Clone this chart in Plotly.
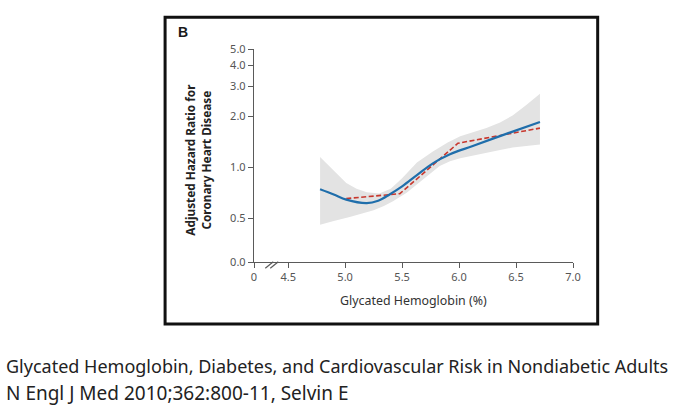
import math
import plotly.graph_objects as go

# ---------------- data ----------------
# Glycated hemoglobin (%) and adjusted hazard ratio, fitted spline (blue)
fit_x = [4.78, 4.90, 5.01, 5.19, 5.29, 5.39, 5.50, 5.63, 5.77, 5.92, 6.12, 6.42, 6.71]
fit_hr = [0.741, 0.690, 0.643, 0.613, 0.634, 0.690, 0.770, 0.897, 1.054, 1.193, 1.335, 1.580, 1.850]

# Category estimates (red dashed)
cat_x = [5.01, 5.48, 5.99, 6.71]
cat_hr = [0.652, 0.697, 1.385, 1.703]

# 95% confidence band (gray)
ci_up_x = [4.78, 4.84, 4.90, 4.96, 5.01, 5.10, 5.19, 5.30, 5.40, 5.50, 5.63, 5.77, 5.90, 6.01, 6.12, 6.24, 6.36, 6.47, 6.59, 6.71]
ci_up_hr = [1.150, 1.050, 0.960, 0.880, 0.805, 0.745, 0.710, 0.700, 0.745, 0.860, 1.066, 1.238, 1.400, 1.522, 1.610, 1.703, 1.840, 2.020, 2.330, 2.720]
ci_lo_x = [4.78, 4.90, 5.04, 5.15, 5.25, 5.34, 5.42, 5.54, 5.62, 5.71, 5.83, 5.92, 6.01, 6.12, 6.24, 6.36, 6.47, 6.59, 6.71]
ci_lo_hr = [0.456, 0.480, 0.507, 0.530, 0.557, 0.590, 0.628, 0.707, 0.785, 0.876, 1.016, 1.085, 1.128, 1.170, 1.216, 1.262, 1.309, 1.335, 1.360]

x_tickvals = [4.5, 5.0, 5.5, 6.0, 6.5, 7.0]
x_ticktext = ["4.5", "5.0", "5.5", "6.0", "6.5", "7.0"]
y_tickvals = [0.5, 1.0, 2.0, 3.0, 4.0, 5.0]
y_ticktext = ["0.5", "1.0", "2.0", "3.0", "4.0", "5.0"]

x_title = "Glycated Hemoglobin (%)"
y_title = "<b>Adjusted Hazard Ratio for<br>Coronary Heart Disease</b>"
panel = "<b>B</b>"
caption1 = "Glycated Hemoglobin, Diabetes, and Cardiovascular Risk in Nondiabetic Adults"
caption2 = "N Engl J Med 2010;362:800-11, Selvin E"

# ---------------- layout geometry ----------------
W, H = 690, 413
L, R, T, B = 254, 573.3, 48.8, 262
X_MIN, X_MAX = 4.2, 7.0          # axis origin shown as "0" (broken axis)
Y_MIN, Y_MAX = 0.275, 5.0        # axis origin shown as "0.0" (broken axis)


def px(x):
    return (x - L) / (R - L)


def py(y):
    return (B - y) / (B - T)


fig = go.Figure()

band_x = ci_up_x + ci_lo_x[::-1]
band_y = ci_up_hr + ci_lo_hr[::-1]
fig.add_trace(go.Scatter(
    x=band_x, y=band_y, mode="lines", fill="toself",
    fillcolor="#e3e3e3", line=dict(width=0, color="#e3e3e3"),
    hoverinfo="skip", showlegend=False))

fig.add_trace(go.Scatter(
    x=cat_x, y=cat_hr, mode="lines",
    line=dict(color="#c8372d", width=1.6, dash="5px,2.5px"),
    showlegend=False))

fig.add_trace(go.Scatter(
    x=fit_x, y=fit_hr, mode="lines",
    line=dict(color="#1f6eab", width=2.2, shape="spline", smoothing=1.0),
    showlegend=False))

axis_common = dict(
    showline=True, linecolor="#5a5a5a", linewidth=1.3,
    ticks="outside", ticklen=5, tickwidth=1.3, tickcolor="#5a5a5a",
    showgrid=False, zeroline=False,
    tickfont=dict(family="Noto Sans", size=11, color="#555555"),
)

fig.update_layout(
    width=W, height=H,
    margin=dict(l=L, r=W - R, t=T, b=H - B, pad=0),
    paper_bgcolor="white", plot_bgcolor="white",
    xaxis=dict(range=[X_MIN, X_MAX],
               tickvals=[X_MIN] + x_tickvals, ticktext=["0"] + x_ticktext,
               **axis_common),
    yaxis=dict(type="log", range=[math.log10(Y_MIN), math.log10(Y_MAX)],
               tickvals=[Y_MIN] + y_tickvals, ticktext=["0.0"] + y_ticktext,
               **axis_common),
)

ann = [
    dict(text=panel, x=px(175.5), y=py(31.5), xanchor="left", yanchor="middle",
         font=dict(family="Liberation Sans", size=14, color="#1a1a1a")),
    dict(text=y_title, x=px(197.5), y=py(160), xanchor="center", yanchor="middle",
         textangle=-90, font=dict(family="Noto Sans", size=11.8, color="#222222")),
    dict(text=x_title, x=px(413.5), y=py(300.5), xanchor="center", yanchor="middle",
         font=dict(family="Noto Sans", size=12.4, color="#333333")),
    dict(text=caption1, x=px(4), y=py(366), xanchor="left", yanchor="middle",
         font=dict(family="Noto Sans", size=18, color="#222222")),
    dict(text=caption2, x=px(4), y=py(393), xanchor="left", yanchor="middle",
         font=dict(family="Noto Sans", size=19, color="#222222")),
]
for a in ann:
    a.update(xref="paper", yref="paper", showarrow=False)
fig.update_layout(annotations=ann)

shapes = [
    dict(type="rect", xref="paper", yref="paper",
         x0=px(165), x1=px(598), y0=py(324), y1=py(17),
         line=dict(color="#111111", width=3), fillcolor="rgba(0,0,0,0)", layer="above"),
    dict(type="line", xref="paper", yref="paper",
         x0=px(265.3), y0=py(268.3), x1=px(273.3), y1=py(261.7),
         line=dict(color="#5a5a5a", width=1.2)),
    dict(type="line", xref="paper", yref="paper",
         x0=px(270.3), y0=py(268.3), x1=px(278.3), y1=py(261.7),
         line=dict(color="#5a5a5a", width=1.2)),
]
fig.update_layout(shapes=shapes)

fig.write_html("out.html")
